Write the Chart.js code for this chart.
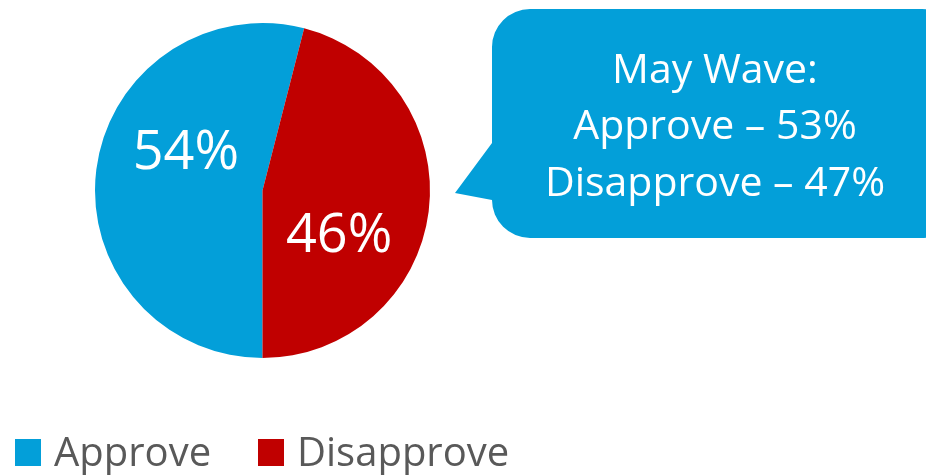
<!DOCTYPE html>
<html>
<head>
<meta charset="utf-8">
<script src="https://cdn.jsdelivr.net/npm/chart.js"></script>
<style>
  html, body { margin: 0; padding: 0; background: #fff; }
  #wrap { width: 926px; height: 475px; position: relative; }
</style>
</head>
<body>
<div id="wrap"><canvas id="pie" width="926" height="475"></canvas></div>
<script>
// данные
const labels = ["Approve", "Disapprove"];
const values = [54, 46];
const colors = ["#039FD9", "#C00000"];
const mayWave = [53, 47];

const FONT = "'Open Sans', 'DejaVu Sans', sans-serif";

// подписи процентов внутри секторов
const sliceLabels = {
  id: "sliceLabels",
  afterDatasetsDraw(chart) {
    const ctx = chart.ctx;
    const meta = chart.getDatasetMeta(0);
    ctx.save();
    ctx.fillStyle = "#fff";
    ctx.font = "54px " + FONT;
    ctx.textAlign = "center";
    ctx.textBaseline = "alphabetic";
    meta.data.forEach((arc, i) => {
      const p = arc.getProps(["x", "y", "startAngle", "endAngle", "outerRadius"], true);
      const mid = (p.startAngle + p.endAngle) / 2 + 0.37;
      const r = p.outerRadius * 0.52;
      ctx.fillText(values[i] + "%", p.x + Math.cos(mid) * r, p.y + Math.sin(mid) * r + 20);
    });
    ctx.restore();
  }
};

// выноска и легенда
const extras = {
  id: "extras",
  afterDraw(chart) {
    const ctx = chart.ctx;
    ctx.save();

    // выноска
    const x0 = 492, y0 = 9, x1 = 960, y1 = 238, rad = 38;
    ctx.fillStyle = "#039FD9";
    ctx.beginPath();
    ctx.moveTo(x0 + rad, y0);
    ctx.lineTo(x1 - rad, y0);
    ctx.arcTo(x1, y0, x1, y0 + rad, rad);
    ctx.lineTo(x1, y1 - rad);
    ctx.arcTo(x1, y1, x1 - rad, y1, rad);
    ctx.lineTo(x0 + rad, y1);
    ctx.arcTo(x0, y1, x0, y1 - rad, rad);
    ctx.lineTo(x0, 200);
    ctx.lineTo(455, 193);
    ctx.lineTo(x0, 143);
    ctx.lineTo(x0, y0 + rad);
    ctx.arcTo(x0, y0, x0 + rad, y0, rad);
    ctx.closePath();
    ctx.fill();

    ctx.fillStyle = "#fff";
    ctx.font = "41px " + FONT;
    ctx.textAlign = "center";
    ctx.textBaseline = "alphabetic";
    ctx.fillText("May Wave:", 715, 83);
    ctx.fillText(labels[0] + " \u2013 " + mayWave[0] + "%", 715, 139);
    ctx.fillText(labels[1] + " \u2013 " + mayWave[1] + "%", 715, 196);

    // легенда
    const lx = [15, 258];
    ctx.font = "40px " + FONT;
    ctx.textAlign = "left";
    labels.forEach((lab, i) => {
      ctx.fillStyle = colors[i];
      ctx.fillRect(lx[i], 439, 26, 27);
      ctx.fillStyle = "#595959";
      ctx.fillText(lab, lx[i] + 39, 466);
    });

    ctx.restore();
  }
};

new Chart(document.getElementById("pie"), {
  type: "pie",
  data: {
    labels: labels,
    datasets: [{
      data: values,
      backgroundColor: colors,
      borderWidth: 0
    }]
  },
  options: {
    responsive: false,
    animation: false,
    rotation: 180,
    layout: { padding: { top: 23, bottom: 117, left: 95, right: 496 } },
    plugins: {
      legend: { display: false },
      tooltip: { enabled: false }
    }
  },
  plugins: [sliceLabels, extras]
});
</script>
</body>
</html>
